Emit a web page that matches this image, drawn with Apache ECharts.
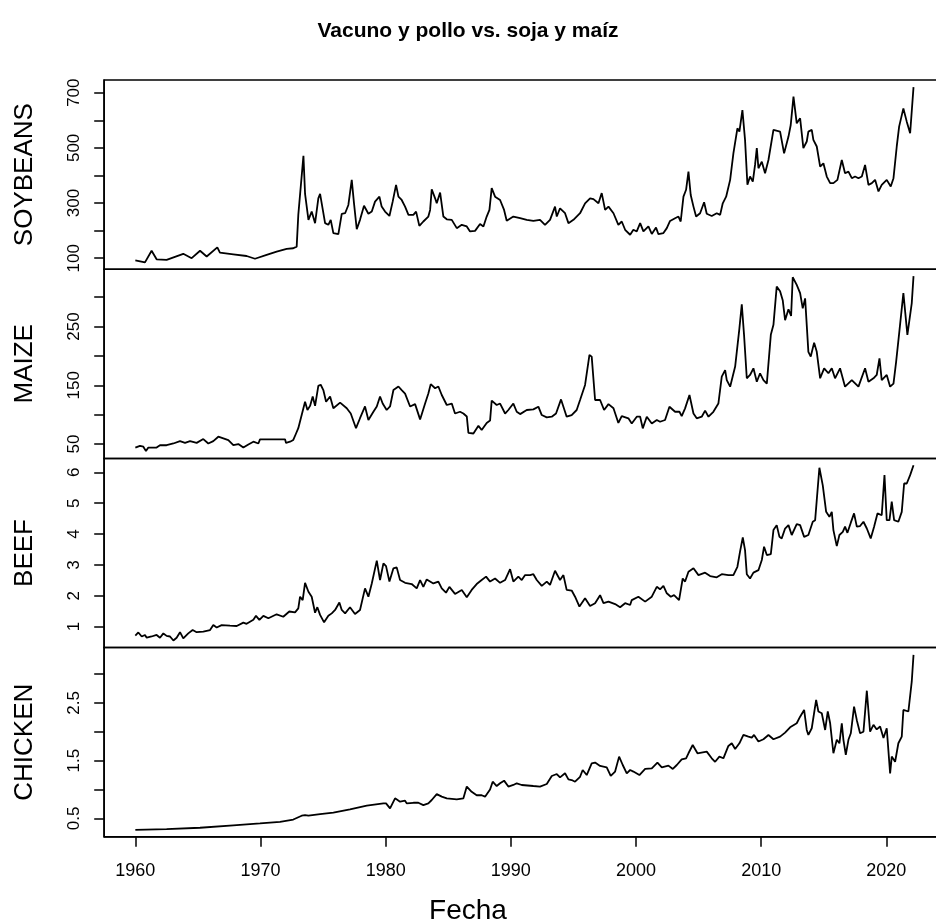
<!DOCTYPE html>
<html>
<head>
<meta charset="utf-8">
<script src="https://cdn.jsdelivr.net/npm/echarts@6/dist/echarts.min.js"></script>
<style>html,body{margin:0;padding:0;background:#fff}#c{width:936px;height:924px}</style>
</head>
<body>
<div id="c"></div>
<script>
// ---- data (decimal years, values) ----
const soyT = [1960.00,1960.77,1961.30,1961.70,1962.50,1963.83,1964.50,1965.17,1965.70,1966.55,
1966.76,1967.83,1968.89,1969.56,1970.49,1971.29,1972.09,1972.62,1972.89,1973.02,
1973.16,1973.43,1973.56,1973.83,1974.09,1974.36,1974.62,1974.76,1974.89,1975.16,
1975.42,1975.61,1975.82,1976.22,1976.49,1976.76,1977.02,1977.29,1977.47,1977.69,
1977.95,1978.27,1978.62,1978.89,1979.15,1979.50,1979.68,1979.95,1980.30,1980.56,
1980.83,1981.02,1981.28,1981.55,1981.82,1982.21,1982.43,1982.69,1983.01,1983.41,
1983.55,1983.68,1983.95,1984.08,1984.35,1984.61,1984.88,1985.28,1985.68,1986.08,
1986.48,1986.74,1987.14,1987.54,1987.81,1988.07,1988.29,1988.47,1988.74,1989.14,
1989.46,1989.67,1990.20,1990.74,1991.27,1991.80,1992.33,1992.73,1993.13,1993.53,
1993.67,1993.93,1994.33,1994.60,1995.00,1995.53,1995.93,1996.33,1996.60,1997.00,
1997.26,1997.53,1997.80,1998.20,1998.59,1998.86,1999.13,1999.53,1999.79,2000.06,
2000.33,2000.59,2000.99,2001.26,2001.60,2001.79,2002.19,2002.46,2002.72,2003.12,
2003.39,2003.57,2003.79,2004.00,2004.19,2004.37,2004.59,2004.80,2005.12,2005.44,
2005.65,2006.05,2006.45,2006.72,2006.93,2007.20,2007.52,2007.78,2008.10,2008.26,
2008.50,2008.71,2008.90,2009.11,2009.33,2009.51,2009.65,2009.78,2010.05,2010.31,
2010.58,2010.98,2011.51,2011.83,2012.18,2012.36,2012.58,2012.84,2013.11,2013.37,
2013.64,2013.77,2014.04,2014.17,2014.44,2014.71,2014.97,2015.24,2015.51,2015.77,
2016.09,2016.44,2016.70,2016.97,2017.24,2017.50,2017.77,2018.04,2018.30,2018.57,
2018.84,2019.10,2019.37,2019.63,2020.03,2020.35,2020.57,2020.83,2021.02,2021.36,
2021.63,2021.90,2022.03,2022.17];
const soyV = [92,85,127,96,94,116,100,127,106,139,
120,114,108,98,112,124,134,136,142,257,
260,471,333,239,269,227,317,333,299,227,
221,239,191,187,261,263,293,384,299,205,
239,290,261,269,305,323,287,269,253,305,
366,323,311,287,257,257,269,217,233,251,
275,350,317,299,338,251,241,239,209,221,
215,197,199,224,215,251,275,354,323,311,
275,236,251,245,239,235,239,221,239,287,
251,281,263,227,239,263,299,317,314,299,
336,275,287,263,221,233,203,185,203,197,
227,197,215,188,211,187,191,209,235,245,
251,233,323,348,414,329,287,251,263,303,
261,253,263,257,299,323,384,480,571,559,
637,529,366,396,378,438,499,426,450,408,
456,565,559,480,541,583,686,589,607,499,
523,559,565,529,505,432,444,396,372,372,
384,456,408,414,390,396,390,396,438,366,
372,384,342,366,384,360,390,505,577,643,
595,553,553,720];

const maizeT = [1960.00,1960.37,1960.64,1960.85,1961.04,1961.70,1961.97,1962.50,1963.04,1963.57,
1963.97,1964.37,1964.90,1965.43,1965.83,1966.23,1966.63,1967.03,1967.43,1967.83,
1968.23,1968.63,1969.03,1969.43,1969.83,1969.96,1971.96,1972.04,1972.36,1972.62,
1972.84,1973.02,1973.16,1973.56,1973.75,1973.96,1974.17,1974.36,1974.62,1974.81,
1975.02,1975.24,1975.56,1975.82,1976.36,1976.89,1977.21,1977.63,1977.95,1978.35,
1978.62,1979.02,1979.29,1979.55,1979.76,1980.08,1980.35,1980.62,1981.02,1981.28,
1981.55,1981.95,1982.35,1982.75,1983.15,1983.41,1983.60,1983.95,1984.21,1984.48,
1984.88,1985.28,1985.54,1985.94,1986.21,1986.48,1986.61,1987.01,1987.41,1987.67,
1988.07,1988.34,1988.47,1988.87,1989.14,1989.54,1989.80,1990.20,1990.47,1990.74,
1991.27,1991.80,1992.20,1992.47,1992.87,1993.27,1993.61,1994.01,1994.46,1994.86,
1995.26,1995.53,1995.93,1996.28,1996.46,1996.73,1997.13,1997.45,1997.80,1998.20,
1998.59,1998.86,1999.39,1999.66,2000.06,2000.33,2000.54,2000.86,2001.26,2001.66,
2001.92,2002.32,2002.67,2003.12,2003.47,2003.65,2003.92,2004.27,2004.59,2004.85,
2005.25,2005.52,2005.79,2006.18,2006.58,2006.85,2007.12,2007.25,2007.52,2007.92,
2008.26,2008.45,2008.63,2008.85,2009.11,2009.38,2009.65,2009.91,2010.18,2010.45,
2010.77,2010.98,2011.24,2011.51,2011.72,2011.91,2012.18,2012.39,2012.52,2012.84,
2013.11,2013.32,2013.51,2013.77,2013.96,2014.23,2014.44,2014.71,2015.03,2015.37,
2015.64,2015.90,2016.30,2016.70,2017.24,2017.77,2018.30,2018.57,2018.97,2019.23,
2019.45,2019.63,2020.03,2020.30,2020.57,2020.78,2021.05,2021.36,2021.68,2022.03,
2022.17];
const maizeV = [44,47,45.5,38,44,44,48,48,51,55,
52,55,52,58.5,51,55,62.5,59.7,56.8,48,
50,44,49.4,54,51,58,58,52,54,57,
68,77,79.5,122,108,115,131,115,149,151,
142,122,131,111,120.5,111,102,77,94,114,
91,105,114,131,119,108,114,142,148,142,
136,114,118,92,119,136,152,145,148,133.5,
116.5,119,102,105,102,97,69,68,81,74,
86,90,124,116.5,119,102,108,119,105,101,
108,109,113.6,99.4,95.5,96.6,102,126,96.6,99.4,
108,125,150.6,201.7,198.9,125,125,108,118,111,
86,97.7,93.8,85,96.6,96.6,76.7,96.6,85,91,
88,91,113.6,105,105,97.7,110.8,133.5,102,93.8,
96.6,107,96.6,105,119,164.8,176,159,147.7,182,
247,288,236,162,167.6,179,156,170.5,159,153,
236,253,318,310,295,261,279.5,268,334,321,
307,281,298,207,199,222.7,207,162,179,170.5,
179,162,179,147.7,159,147.7,179,156,162,167.6,
196,159,167.6,147.7,153,190,244,307,236,290,
336];

const beefT = [1960.00,1960.24,1960.51,1960.77,1960.91,1961.30,1961.70,1961.97,1962.24,1962.50,
1962.77,1963.04,1963.30,1963.57,1963.83,1964.23,1964.58,1964.90,1965.43,1965.97,
1966.23,1966.50,1966.90,1967.56,1968.10,1968.63,1968.89,1969.43,1969.64,1969.91,
1970.23,1970.63,1971.29,1971.82,1972.30,1972.76,1973.02,1973.16,1973.37,1973.56,
1973.83,1974.09,1974.36,1974.54,1974.76,1975.08,1975.42,1975.69,1975.96,1976.30,
1976.49,1976.76,1977.15,1977.55,1977.95,1978.35,1978.62,1978.89,1979.29,1979.55,
1979.82,1980.03,1980.30,1980.62,1980.88,1981.15,1981.55,1982.08,1982.48,1982.75,
1983.01,1983.28,1983.81,1984.21,1984.48,1984.82,1985.09,1985.54,1986.08,1986.48,
1986.87,1987.27,1987.67,1988.02,1988.34,1988.74,1989.14,1989.54,1989.94,1990.20,
1990.60,1990.87,1991.14,1991.54,1991.80,1992.07,1992.47,1992.87,1993.13,1993.53,
1993.93,1994.20,1994.46,1994.86,1995.13,1995.48,1995.93,1996.33,1996.73,1997.13,
1997.40,1997.80,1998.33,1998.73,1999.13,1999.53,1999.66,2000.19,2000.73,2001.26,
2001.66,2001.92,2002.19,2002.46,2002.78,2003.04,2003.44,2003.73,2003.92,2004.19,
2004.59,2004.99,2005.52,2005.92,2006.45,2006.85,2007.38,2007.78,2008.10,2008.31,
2008.53,2008.71,2008.85,2009.11,2009.38,2009.78,2010.05,2010.23,2010.45,2010.77,
2010.98,2011.24,2011.46,2011.64,2011.91,2012.18,2012.44,2012.84,2013.11,2013.43,
2013.77,2014.12,2014.31,2014.44,2014.65,2014.92,2015.19,2015.45,2015.64,2015.77,
2016.04,2016.25,2016.52,2016.70,2016.89,2017.16,2017.42,2017.64,2017.90,2018.17,
2018.44,2018.75,2019.02,2019.29,2019.63,2019.85,2020.03,2020.25,2020.43,2020.62,
2020.96,2021.23,2021.42,2021.63,2021.90,2022.17];
const beefV = [0.71,0.81,0.68,0.73,0.64,0.68,0.73,0.64,0.78,0.70,
0.68,0.55,0.64,0.82,0.62,0.78,0.89,0.82,0.84,0.89,
1.05,0.97,1.05,1.03,1.02,1.13,1.09,1.22,1.35,1.22,
1.35,1.27,1.40,1.32,1.49,1.46,1.59,1.97,1.86,2.42,
2.13,1.97,1.45,1.63,1.38,1.14,1.35,1.43,1.54,1.78,
1.54,1.43,1.63,1.41,1.54,2.24,1.97,2.40,3.14,2.51,
3.05,2.96,2.46,2.89,2.92,2.51,2.42,2.38,2.24,2.51,
2.29,2.53,2.40,2.46,2.24,2.10,2.29,2.06,2.19,1.95,
2.19,2.38,2.51,2.62,2.46,2.56,2.42,2.51,2.86,2.46,
2.62,2.51,2.67,2.67,2.70,2.51,2.32,2.46,2.35,2.81,
2.51,2.67,2.19,2.17,1.97,1.65,1.92,1.67,1.76,2.02,
1.76,1.81,1.73,1.63,1.76,1.70,1.86,1.97,1.81,1.97,
2.29,2.21,2.32,2.08,1.97,2.02,1.86,2.56,2.46,2.78,
2.89,2.67,2.75,2.64,2.60,2.70,2.67,2.67,2.94,3.43,
3.89,3.48,2.70,2.56,2.75,2.83,3.16,3.59,3.32,3.35,
4.13,4.29,3.91,3.86,4.18,4.29,3.97,4.32,4.29,3.91,
3.97,4.40,4.45,5.10,6.15,5.58,4.72,4.56,4.72,4.13,
3.61,3.97,4.07,4.24,4.04,4.37,4.67,4.24,4.26,4.40,
4.18,3.86,4.24,4.67,4.61,5.91,4.45,4.45,5.05,4.45,
4.40,4.72,5.64,5.64,5.91,6.23];

const chickT = [1960.00,1962.50,1965.17,1967.83,1969.96,1971.56,1972.62,1973.29,1973.56,1973.83,
1973.96,1974.76,1975.82,1977.15,1978.49,1979.82,1980.03,1980.35,1980.75,1981.15,
1981.55,1981.68,1982.21,1982.61,1983.01,1983.41,1983.68,1984.08,1984.48,1984.88,
1985.68,1986.21,1986.48,1986.87,1987.27,1987.67,1987.94,1988.34,1988.55,1988.87,
1989.14,1989.46,1989.80,1990.20,1990.47,1990.87,1991.80,1992.33,1992.87,1993.27,
1993.67,1993.93,1994.33,1994.60,1994.86,1995.13,1995.53,1995.74,1996.06,1996.46,
1996.73,1997.13,1997.66,1997.98,1998.33,1998.65,1998.94,1999.26,1999.53,1999.79,
2000.27,2000.73,2001.26,2001.71,2002.06,2002.59,2002.94,2003.26,2003.65,2004.00,
2004.19,2004.53,2004.91,2005.65,2006.05,2006.32,2006.66,2006.98,2007.38,2007.65,
2007.92,2008.26,2008.58,2008.98,2009.25,2009.43,2009.78,2010.18,2010.58,2010.98,
2011.51,2011.91,2012.31,2012.84,2013.11,2013.43,2013.64,2013.77,2014.04,2014.39,
2014.57,2014.84,2015.11,2015.32,2015.51,2015.77,2016.04,2016.25,2016.44,2016.57,
2016.76,2016.97,2017.16,2017.42,2017.64,2017.90,2018.17,2018.44,2018.70,2018.97,
2019.23,2019.50,2019.77,2020.03,2020.30,2020.43,2020.70,2020.96,2021.23,2021.36,
2021.76,2022.03,2022.17];
const chickV = [0.30,0.315,0.338,0.38,0.413,0.44,0.48,0.546,0.558,0.546,
0.56,0.575,0.60,0.656,0.72,0.76,0.76,0.673,0.847,0.789,
0.806,0.76,0.77,0.77,0.73,0.76,0.818,0.92,0.876,0.847,
0.83,0.847,1.05,0.96,0.90,0.90,0.876,1.0,1.135,1.06,
1.107,1.153,1.05,1.078,1.107,1.078,1.06,1.05,1.095,1.234,
1.268,1.21,1.28,1.176,1.164,1.135,1.22,1.337,1.25,1.453,
1.465,1.407,1.384,1.234,1.31,1.569,1.424,1.28,1.337,1.31,
1.25,1.355,1.367,1.465,1.384,1.413,1.355,1.424,1.52,1.54,
1.627,1.77,1.627,1.655,1.54,1.48,1.569,1.54,1.754,1.80,
1.70,1.80,1.944,1.915,1.898,1.944,1.83,1.87,1.944,1.87,
1.915,1.985,2.077,2.146,2.26,2.377,2.03,1.944,2.06,2.55,
2.35,2.32,2.03,2.35,2.146,1.627,1.86,1.80,2.146,1.86,
1.60,1.86,1.973,2.435,2.20,1.973,2.0,2.71,2.0,2.12,
2.04,2.09,1.89,2.06,1.28,1.569,1.48,1.80,1.915,2.377,
2.35,2.87,3.33];

const panelNames = ['SOYBEANS', 'MAIZE', 'BEEF', 'CHICKEN'];
const yTicks = [[100,200,300,400,500,600,700],[50,100,150,200,250,300],[1,2,3,4,5,6],[0.5,1,1.5,2,2.5,3]];
const yLabels = [[100,300,500,700],[50,150,250],[1,2,3,4,5,6],[0.5,1.5,2.5]];
const yRanges = [[60.1,746],[25.6,347.7],[0.32,6.453],[0.181,3.456]];
const xTicks = [1960,1970,1980,1990,2000,2010,2020];
const xRange = [1957.513, 2024.653];
const mainTitle = 'Vacuno y pollo vs. soja y maíz';
const xTitle = 'Fecha';

// ---- chart ----
const FONT = 'Liberation Sans, Arial, Helvetica, sans-serif';
const seriesT = [soyT, maizeT, beefT, chickT];
const seriesV = [soyV, maizeV, beefV, chickV];
const panelTop = 80, panelH = 189.2, left = 104.2, width = 840.4;

const grids = [], xAxes = [], yAxes = [], series = [];
for (let i = 0; i < 4; i++) {
  grids.push({left: left, width: width, top: panelTop + i * panelH, height: panelH,
    outerBoundsMode: 'none', containLabel: false,
    show: true, borderColor: '#000', borderWidth: 1.5, backgroundColor: 'transparent'});
  const bottom = i === 3;
  xAxes.push({type: 'value', gridIndex: i, min: xRange[0], max: xRange[1],
    axisLine: {show: bottom, onZero: false, lineStyle: {color: '#000', width: 1.5}},
    axisTick: {show: bottom, customValues: xTicks, length: 10, lineStyle: {color: '#000', width: 1.5}},
    axisLabel: {show: bottom, customValues: xTicks, color: '#000', fontSize: 18, fontFamily: FONT, margin: 25,
      formatter: v => String(Math.round(v))},
    splitLine: {show: false}});
  yAxes.push({type: 'value', gridIndex: i, min: yRanges[i][0], max: yRanges[i][1],
    name: panelNames[i], nameLocation: 'middle', nameRotate: 90, nameGap: 66,
    nameTextStyle: {color: '#000', fontSize: 26, fontFamily: FONT},
    axisLine: {show: true, onZero: false, lineStyle: {color: '#000', width: 1.5}},
    axisTick: {show: true, customValues: yTicks[i], length: 10, lineStyle: {color: '#000', width: 1.5}},
    axisLabel: {show: true, customValues: yLabels[i], rotate: 90, color: '#000', fontSize: 17, fontFamily: FONT, margin: 21},
    splitLine: {show: false}});
  const data = seriesT[i].map((t, k) => [t, seriesV[i][k]]);
  series.push({type: 'line', xAxisIndex: i, yAxisIndex: i, data: data, showSymbol: false,
    symbol: 'none', lineStyle: {color: '#000', width: 1.8}, animation: false});
}

const chart = echarts.init(document.getElementById('c'), null, {renderer: 'canvas'});
chart.setOption({
  backgroundColor: '#fff',
  animation: false,
  title: [
    {text: mainTitle, left: 'center', top: 16, textStyle: {fontSize: 21, fontWeight: 'bold', color: '#000', fontFamily: FONT}},
    {text: xTitle, left: 'center', top: 892, textStyle: {fontSize: 28, fontWeight: 'normal', color: '#000', fontFamily: FONT}}
  ],
  grid: grids, xAxis: xAxes, yAxis: yAxes, series: series
});
</script>
</body>
</html>
